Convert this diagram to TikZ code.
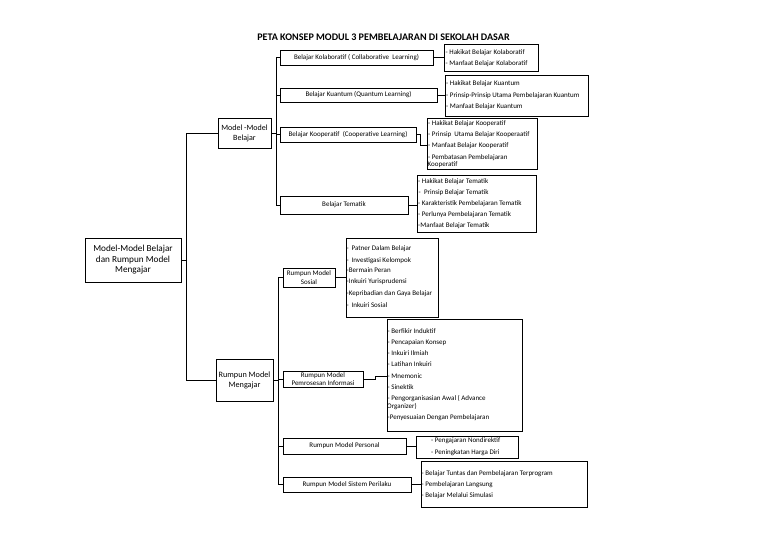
\documentclass[tikz,border=0pt]{standalone}
\usepackage{fontspec}
\setmainfont{Carlito}
\begin{document}
\begin{tikzpicture}[x=1pt,y=-1pt,
  box/.style={draw=black, line width=0.8pt, rectangle, inner sep=0pt, align=center, font=\fontsize{7}{8.5}\selectfont},
  item/.style={anchor=west, inner sep=0pt, font=\fontsize{7}{8}\selectfont, text height=4.6pt, text depth=0pt},
  conn/.style={draw=black, line width=0.8pt},
]
\useasboundingbox (0,0) rectangle (768,543);
\fill[white] (0,0) rectangle (768,543);

% title
\node[inner sep=0pt, font=\fontsize{10.1}{11}\selectfont\bfseries] (title) at (383.5,37) {PETA KONSEP MODUL 3 PEMBELAJARAN DI SEKOLAH DASAR};

% main boxes
\node[box, minimum width=96pt, minimum height=44pt, font=\fontsize{9.2}{10.5}\selectfont] (main) at (133,260) {Model-Model Belajar\\dan Rumpun Model\\Mengajar};
\node[box, minimum width=53pt, minimum height=30pt, font=\fontsize{8}{10}\selectfont] (mb) at (244.5,133) {Model -Model\\Belajar};
\node[box, minimum width=57pt, minimum height=42pt, font=\fontsize{8.2}{10}\selectfont] (rmm) at (244.5,380) {Rumpun Model\\Mengajar};

% branch 1 boxes
\node[box, minimum width=153pt, minimum height=15pt] (kol) at (356.5,57.5) {Belajar Kolaboratif ( Collaborative \ Learning)};
\node[box, minimum width=157pt, minimum height=14pt] (kua) at (358.5,95) {Belajar Kuantum (Quantum Learning)};
\node[box, minimum width=136pt, minimum height=15pt] (koo) at (348,134.5) {Belajar Kooperatif \ (Cooperative Learning)};
\node[box, minimum width=128pt, minimum height=18pt] (tem) at (344,205) {Belajar Tematik};

% branch 1 detail boxes
\node[box, minimum width=94pt, minimum height=27pt] (kolD) at (491,57.5) {};
\node[box, minimum width=143pt, minimum height=41pt] (kuaD) at (516.5,95.5) {};
\node[box, minimum width=110pt, minimum height=51pt] (kooD) at (482,143.5) {};
\node[box, minimum width=119pt, minimum height=57pt] (temD) at (476.5,203.5) {};

% branch 2 boxes
\node[box, minimum width=52pt, minimum height=19pt] (sos) at (309,277.5) {Rumpun Model\\Sosial};
\node[box, minimum width=80pt, minimum height=16pt, font=\fontsize{7}{8.5}\selectfont] (pem) at (323,379) {Rumpun Model\\Pemrosesan Informasi};
\node[box, minimum width=123pt, minimum height=16pt] (per) at (344.5,446) {Rumpun Model Personal};
\node[box, minimum width=128pt, minimum height=15pt] (sis) at (347,484.5) {Rumpun Model Sistem Perilaku};

% branch 2 detail boxes
\node[box, minimum width=92pt, minimum height=79pt] (sosD) at (392,277.5) {};
\node[box, minimum width=135pt, minimum height=112pt] (pemD) at (454.5,375) {};
\node[box, minimum width=102pt, minimum height=22pt] (perD) at (467,447) {};
\node[box, minimum width=166pt, minimum height=46pt] (sisD) at (504,484) {};

% connectors: main trunk
\coordinate (t1top) at (186.5,133);
\coordinate (t1bot) at (186.5,380);
\draw[conn] (main.east) -- (main.east -| t1top);
\draw[conn] (mb.west) -- (t1top) -- (t1bot) -- (rmm.west);

% branch 1 trunk
\coordinate (t2) at (276.5,133);
\draw[conn] (mb.east) -- (t2);
\draw[conn] (kol.west) -| (t2) |- (tem.west);
\draw[conn] (kua.west) -- (kua.west -| t2);
\draw[conn] (koo.west) -- (koo.west -| t2);

% branch 2 trunk
\coordinate (t3) at (278.5,380);
\draw[conn] (rmm.east) -- (t3);
\draw[conn] (sos.west) -| (t3) |- (sis.west);
\draw[conn] (pem.west) -- (pem.west -| t3);
\draw[conn] (per.west) -- (per.west -| t3);

% detail connectors
\draw[conn] (kol.east) -- (kolD.west);
\draw[conn] (kua.east) -- (kua.east -| kuaD.west);
\coordinate (kooJ) at (420.5,145);
\draw[conn] (koo.east) -| (kooJ) -- (kooJ -| kooD.west);
\draw[conn] (tem.east) -- (tem.east -| temD.west);
\draw[conn] (sos.east) -- (sosD.west);
\coordinate (pemJ) at (375,376);
\draw[conn] (pem.east) -| (pemJ) -- (pemJ -| pemD.west);
\draw[conn] (per.east) -- (per.east -| perD.west);
\draw[conn] (sis.east) -- (sis.east -| sisD.west);

% items: kolaboratif
\node[item] (kol1) at (445.5,52) {- Hakikat Belajar Kolaboratif};
\node[item] (kol2) at (445.5,63) {- Manfaat Belajar Kolaboratif};
% kuantum
\node[item] (kua1) at (446,83) {- Hakikat Belajar Kuantum};
\node[item] (kua2) at (446,95) {- Prinsip-Prinsip Utama Pembelajaran Kuantum};
\node[item] (kua3) at (446,106) {- Manfaat Belajar Kuantum};
% kooperatif
\node[item] (koo1) at (428,123) {- Hakikat Belajar Kooperatif};
\node[item] (koo2) at (428,134) {- Prinsip \ Utama Belajar Kooperaatif};
\node[item] (koo3) at (428,145) {- Manfaat Belajar Kooperatif};
\node[item] (koo4) at (428,157) {- Pembatasan Pembelajaran};
\node[item] (koo5) at (427.5,164.5) {Kooperatif};
% tematik
\node[item] (tem1) at (418,181) {- Hakikat Belajar Tematik};
\node[item] (tem2) at (418.5,192) {- \ Prinsip Belajar Tematik};
\node[item] (tem3) at (418,203) {- Karakteristik Pembelajaran Tematik};
\node[item] (tem4) at (418,214) {- Perlunya Pembelajaran Tematik};
\node[item] (tem5) at (418,225) {-Manfaat Belajar Tematik};
% sosial
\node[item] (sos1) at (346.5,248.5) {- \,Patner Dalam Belajar};
\node[item] (sos2) at (346.5,260.5) {- \,Investigasi Kelompok};
\node[item] (sos3) at (346.5,270) {-Bermain Peran};
\node[item] (sos4) at (346.5,281.5) {-Inkuiri Yurisprudensi};
\node[item] (sos5) at (346.5,293) {-Kepribadian dan Gaya Belajar};
\node[item] (sos6) at (346.5,305) {- \,Inkuiri Sosial};
% pemrosesan
\node[item] (pem1) at (387.5,331) {- Berfikir Induktif};
\node[item] (pem2) at (387.5,342) {- Pencapaian Konsep};
\node[item] (pem3) at (387.5,353) {- Inkuiri Ilmiah};
\node[item] (pem4) at (387.5,364) {- Latihan Inkuiri};
\node[item] (pem5) at (387.5,376) {- Mnemonic};
\node[item] (pem6) at (387.5,387) {- Sinektik};
\node[item] (pem7) at (387.5,398) {- Pengorganisasian Awal ( Advance};
\node[item] (pem8) at (387,406.5) {Organizer)};
\node[item] (pem9) at (387.5,417) {-Penyesuaian Dengan Pembelajaran};
% personal
\node[item] (per1) at (431,440) {- Pengajaran Nondirektif};
\node[item] (per2) at (431,452) {- Peningkatan Harga Diri};
% sistem perilaku
\node[item] (sis1) at (421.5,473) {- Belajar Tuntas dan Pembelajaran Terprogram};
\node[item] (sis2) at (421.5,484) {- Pembelajaran Langsung};
\node[item] (sis3) at (421.5,495) {- Belajar Melalui Simulasi};
\end{tikzpicture}
\end{document}
